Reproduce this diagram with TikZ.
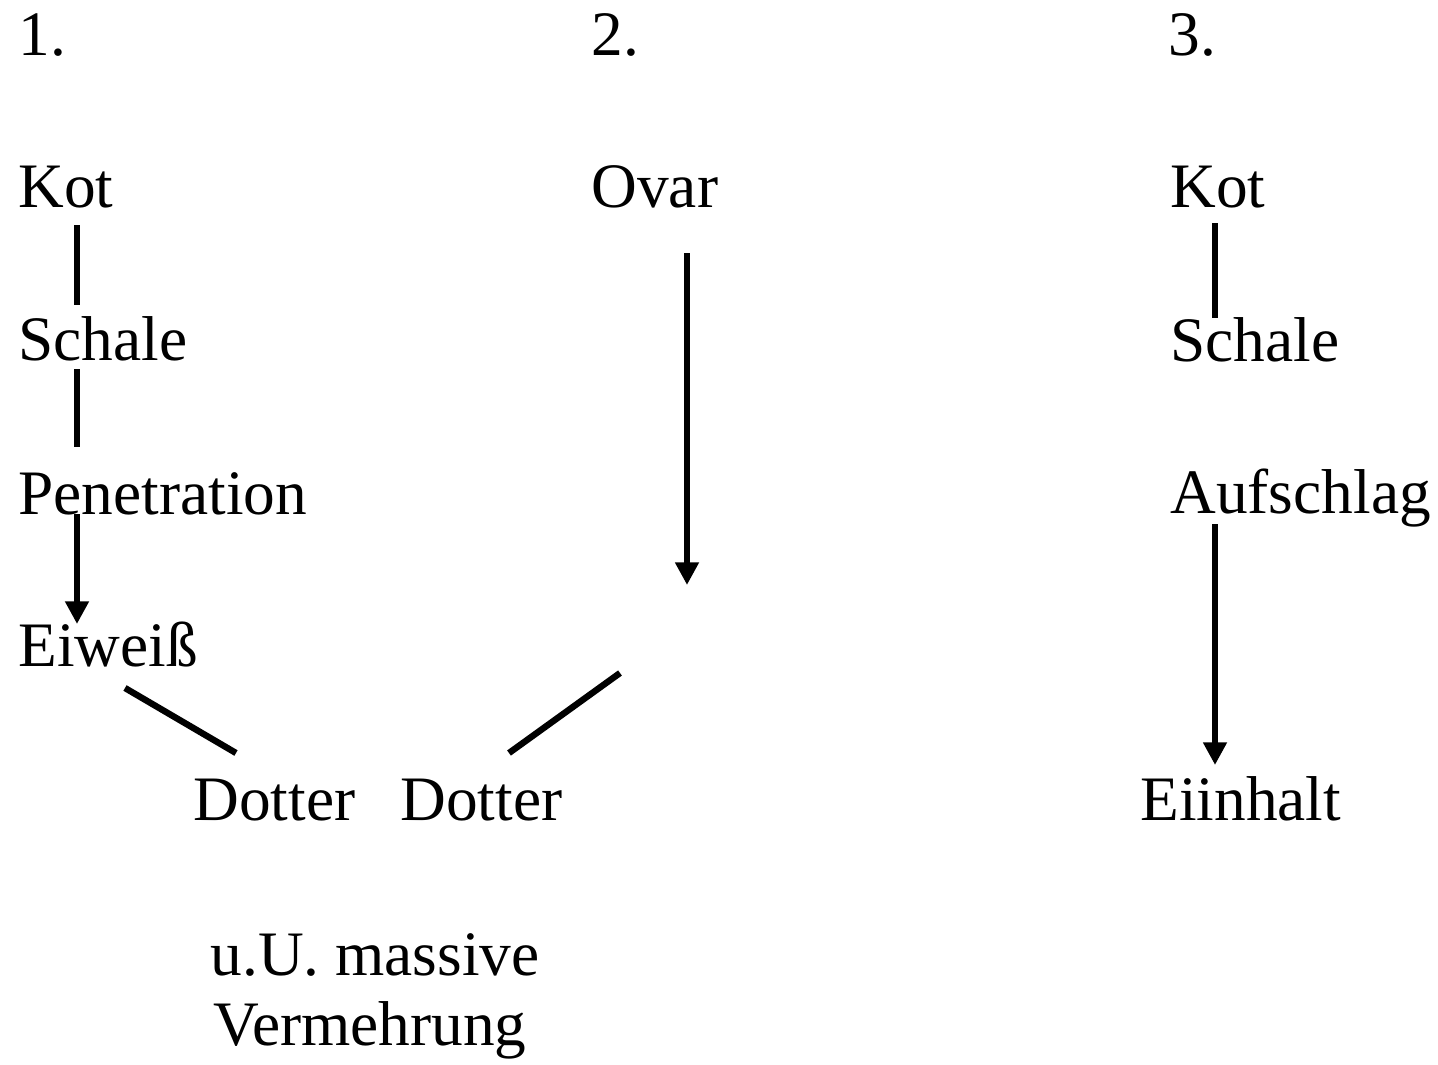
\documentclass[tikz,border=0pt]{standalone}
\usepackage{fontspec}
\setmainfont{Liberation Serif}
\usetikzlibrary{arrows.meta}

\tikzset{every picture/.style={line width=0.75pt}}
\tikzset{
  lbl/.style={anchor=base west, inner sep=0pt, font=\fontsize{47.5}{56}\selectfont},
  link/.style={line width=4.8pt},
  flow/.style={line width=4.8pt, -{Triangle[length=17pt,width=17pt]}}
}

\begin{document}
\begin{tikzpicture}[x=0.75pt,y=0.75pt,yscale=-1,xscale=1]
\useasboundingbox (0,0) rectangle (1438,1064);

% Text Node
\node[lbl] (num1) at (18,55) {1.};
% Text Node
\node[lbl] (num2) at (591,55) {2.};
% Text Node
\node[lbl] (num3) at (1168,55) {3.};

% Text Node
\node[lbl] (kot1) at (18,207) {Kot};
% Text Node
\node[lbl] (schale1) at (18,360) {Schale};
% Text Node
\node[lbl] (pen1) at (18,514) {Penetration};
% Text Node
\node[lbl] (eiw1) at (18,666) {Eiweiß};
% Text Node
\node[lbl] (dotter1) at (193,820) {Dotter};

% Text Node
\node[lbl] (ovar2) at (591,207) {Ovar};
% Text Node
\node[lbl] (dotter2) at (400,820) {Dotter};
\coordinate (ovarend) at (687,585);
\coordinate (dotterstart) at (620,673);

% Text Node
\node[lbl] (massiv) at (210,975) {u.U. massive};
% Text Node
\node[lbl] (vermehr) at (213,1045) {Vermehrung};

% Text Node
\node[lbl] (kot3) at (1170,207) {Kot};
% Text Node
\node[lbl] (schale3) at (1170,361) {Schale};
% Text Node
\node[lbl] (aufschlag3) at (1170,513) {Aufschlag};
% Text Node
\node[lbl] (einhalt3) at (1140,820) {Eiinhalt};

%Straight Lines
\draw[link] ([shift={(59,18)}]kot1.base west) -- ([shift={(59,-55)}]schale1.base west);
%Straight Lines
\draw[link] ([shift={(59,9)}]schale1.base west) -- ([shift={(59,-67)}]pen1.base west);
%Straight Lines
\draw[flow] ([shift={(59,0)}]pen1.base west) -- ([shift={(59,-42)}]eiw1.base west);
%Straight Lines
\draw[link] ([shift={(107,22)}]eiw1.base west) -- ([shift={(43,-67)}]dotter1.base west);

%Straight Lines
\draw[flow] ([shift={(96,46)}]ovar2.base west) -- (ovarend);
%Straight Lines
\draw[link] (dotterstart) -- ([shift={(109,-67)}]dotter2.base west);

%Straight Lines
\draw[link] ([shift={(45,16)}]kot3.base west) -- ([shift={(45,-43)}]schale3.base west);
%Straight Lines
\draw[flow] ([shift={(45,11)}]aufschlag3.base west) -- ([shift={(75,-55)}]einhalt3.base west);

\end{tikzpicture}
\end{document}
